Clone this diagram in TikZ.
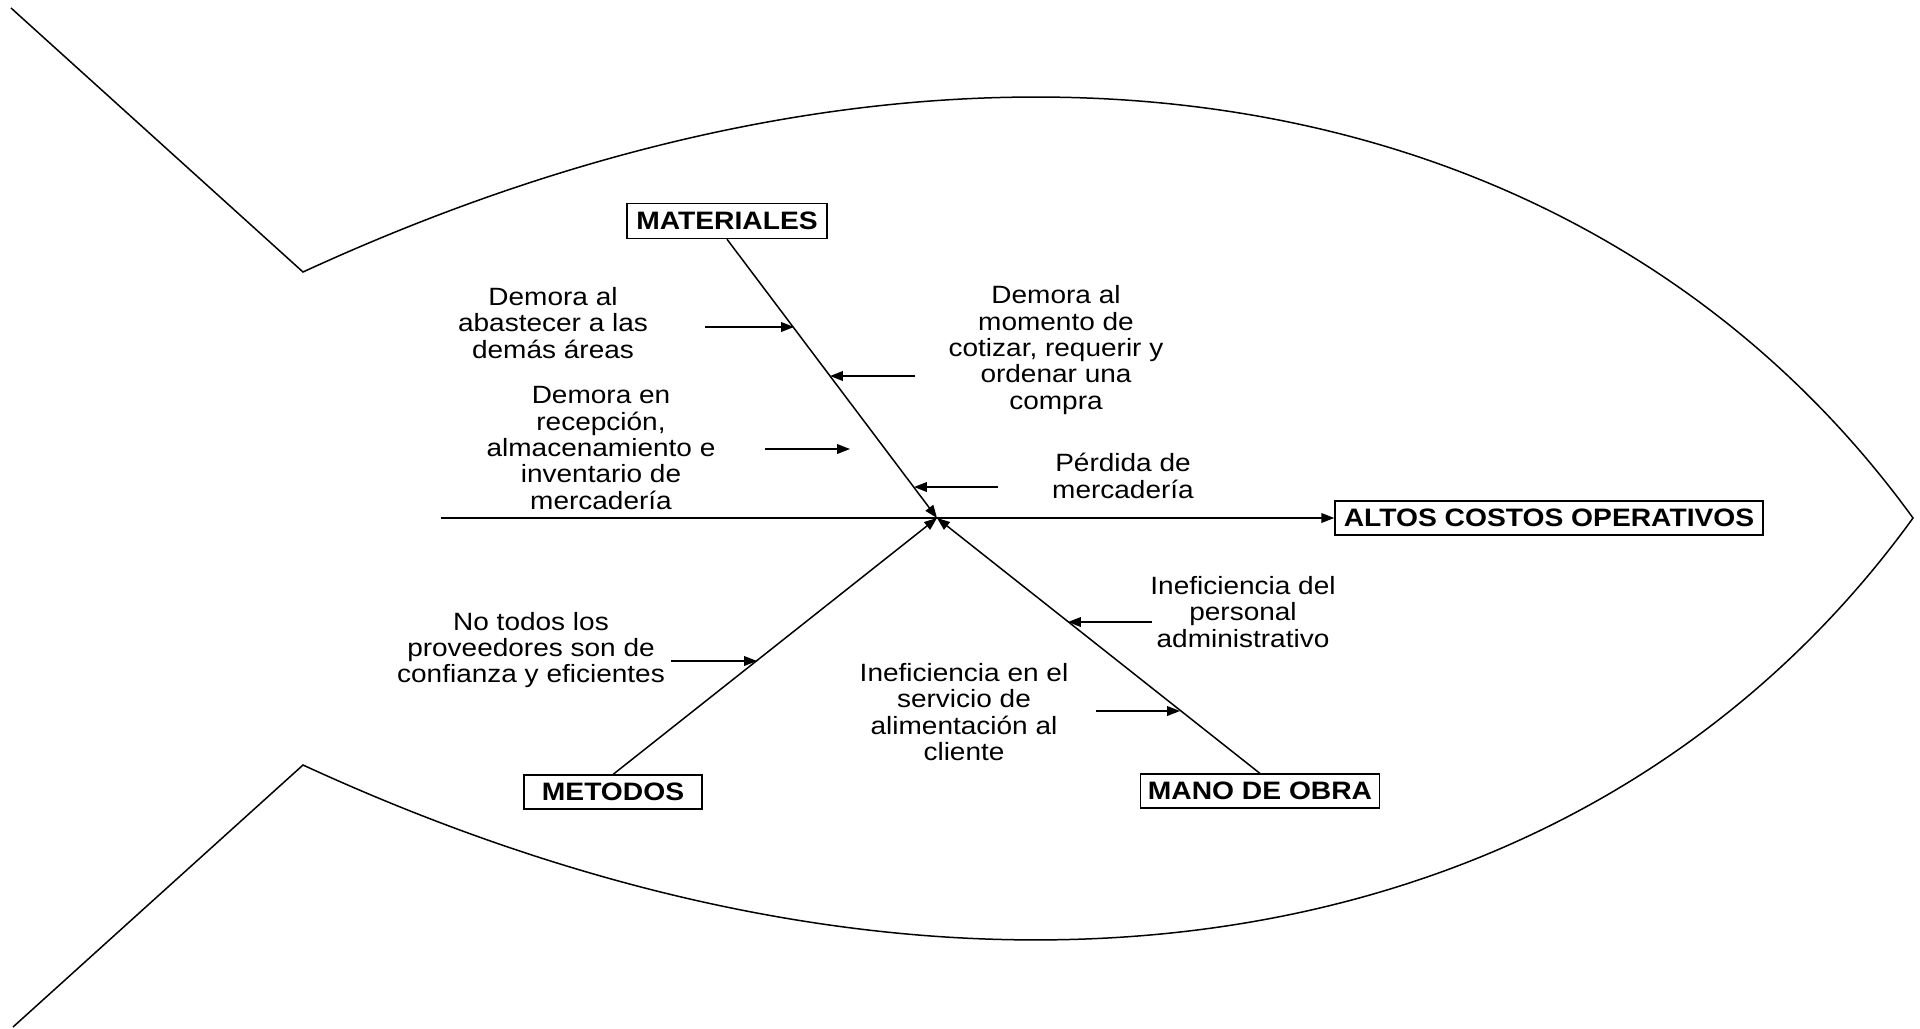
\documentclass[tikz,border=0pt]{standalone}
\usepackage{fontspec}
\setmainfont{Liberation Sans}[FakeStretch=1.12]
\usetikzlibrary{arrows.meta}

\begin{document}
\begin{tikzpicture}[
  x=0.5pt, y=-0.5pt,
  every path/.style={line width=0.75pt},
  tip/.style={-{Triangle[length=6.4pt,width=4.8pt]}},
  cause/.style={align=center, inner sep=0pt, font=\fontsize{12.5}{13.15}\selectfont},
  catbox/.style={draw, line width=0.75pt, inner sep=0pt, minimum height=16.8pt,
                 font=\bfseries\fontsize{12.6}{14}\selectfont},
]
\path[use as bounding box] (0,0) rectangle (1920,1028);

% fish outline: tail and body
\coordinate (tailtop) at (11,8);
\coordinate (bodytop) at (303,272);
\coordinate (bodybot) at (303,765);
\coordinate (tailbot) at (13,1027);
\coordinate (nose) at (1913,518);
\draw (tailtop) -- (bodytop)
      .. controls (983,-41) and (1596,81) .. (nose)
      .. controls (1596,956) and (983,1078) .. (bodybot)
      -- (tailbot);

% effect and categories
\node[catbox, minimum width=214pt] (altos) at (1549,518) {ALTOS COSTOS OPERATIVOS};
\node[catbox, minimum width=100pt, minimum height=17.5pt] (mat) at (727,221) {MATERIALES};
\node[catbox, minimum width=89pt] (met) at (613,792) {METODOS};
\node[catbox, minimum width=119.5pt] (mano) at (1260,791) {MANO DE OBRA};

\coordinate (head) at (937,518);
\coordinate (spine) at (441,518);

% spine and main bones
\draw[tip] (spine) -- (altos.west);
\draw[tip] (mat.south) -- (head);
\draw[tip] (met.north) -- (head);
\draw[tip] (mano.north) -- (head);

% causes
\node[cause] (c1) at (553,323) {Demora al\\abastecer a las\\demás áreas};
\node[cause] (c2) at (1056,350) {Demora al\\momento de\\cotizar, requerir y\\ordenar una\\compra};
\node[cause] (c3) at (601,448) {Demora en\\recepción,\\almacenamiento e\\inventario de\\mercadería};
\node[cause] (c4) at (1123,476) {Pérdida de\\mercadería};
\node[cause] (c5) at (531,650) {No todos los\\proveedores son de\\confianza y eficientes};
\node[cause] (c6) at (1243,612) {Ineficiencia del\\personal\\administrativo};
\node[cause] (c7) at (964,712) {Ineficiencia en el\\servicio de\\alimentación al\\cliente};

% cause arrows
\coordinate (a1s) at (705,327);  \coordinate (a1e) at (794,327);
\coordinate (a2s) at (915,376);  \coordinate (a2e) at (830,376);
\coordinate (a3s) at (765,449);  \coordinate (a3e) at (850,449);
\coordinate (a4s) at (998,487);  \coordinate (a4e) at (914,487);
\coordinate (a5s) at (671,661);  \coordinate (a5e) at (757,661);
\coordinate (a6s) at (1152,622); \coordinate (a6e) at (1068,622);
\coordinate (a7s) at (1096,711); \coordinate (a7e) at (1180,711);
\foreach \i in {1,...,7} \draw[tip] (a\i s) -- (a\i e);
\end{tikzpicture}
\end{document}
